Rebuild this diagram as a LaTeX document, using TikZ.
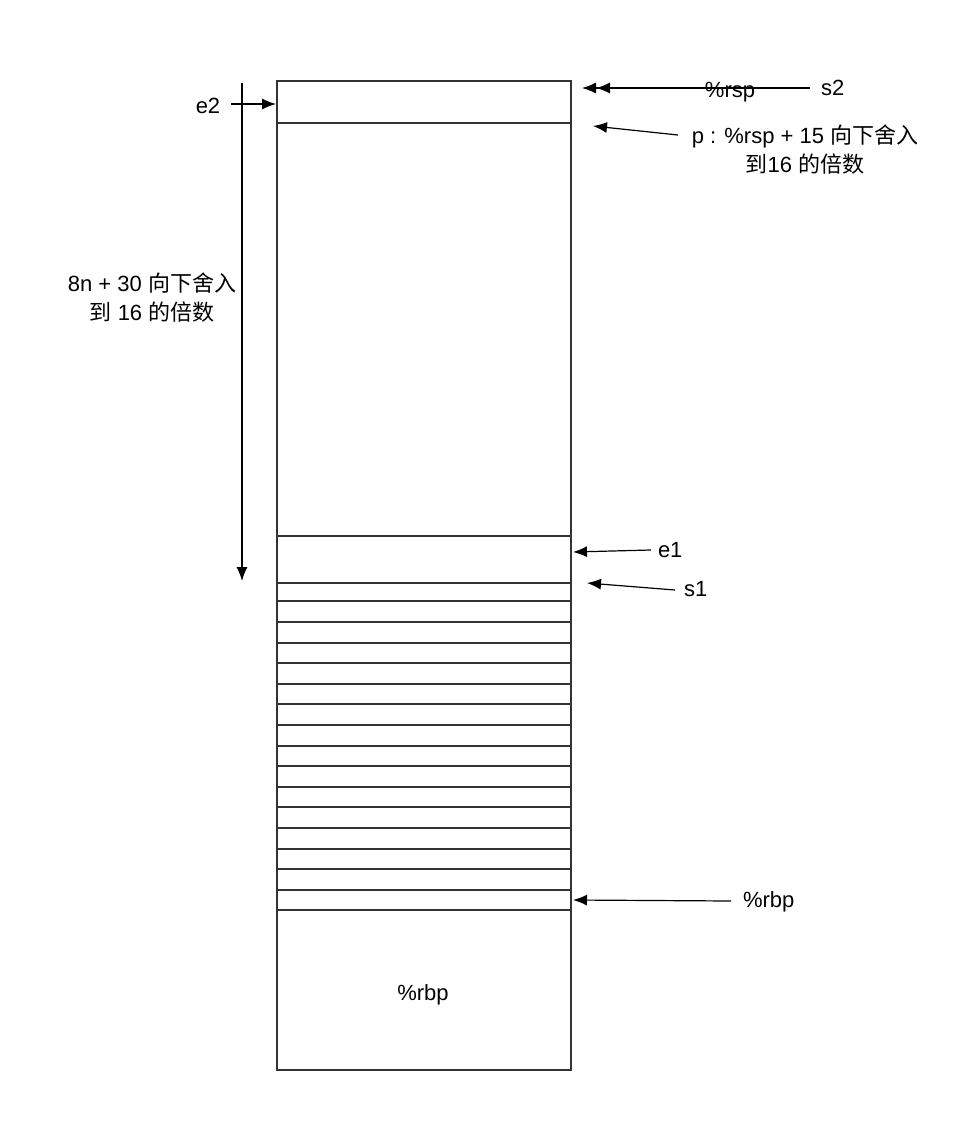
\documentclass[tikz,border=0pt]{standalone}
\usepackage{fontspec}
\setmainfont{Liberation Sans}
\newfontfamily\cjk{Noto Sans CJK SC}
\usetikzlibrary{arrows.meta,positioning}

\tikzset{
  arr/.style={-{Latex[length=7pt,width=5.5pt]}, line width=0.6pt, black},
  lbl/.style={font=\fontsize{11}{14.5}\selectfont, inner sep=1pt, black},
}

\begin{document}
\begin{tikzpicture}[x=0.5pt, y=-0.5pt, line width=1pt, draw=black!80]
  \useasboundingbox (0,0) rectangle (976,1142);

  % Stack frame
  \draw (277,81) rectangle (571,1070);
  \draw (277,123) -- (571,123);
  \draw (277,536) -- (571,536);
  \foreach \y in {583,601,622,643,663,684,704,725,746,766,787,807,828,849,869,890,910}
    \draw (277,\y) -- (571,\y);
  \node[lbl] (rbpin) at (423,995) {\%rbp};

  % Top pointers
  \node[lbl] (rsp) at (730,92) {\%rsp};
  \node[lbl, anchor=west] (stwo) at (818,88) {s2};
  \coordinate (rsptip) at (582,88);
  \coordinate (stwotip) at (596,88);
  \draw[arr] (stwo.west) ++(-8,0) -- (stwotip);
  \draw[arr] (rsp.west |- rsptip) -- (rsptip);

  \node[lbl, align=center] (ptext) at (805,150) {p : \%rsp + 15 {\cjk 向下舍入}\\{\cjk 到}16 {\cjk 的倍数}};
  \coordinate (ptail) at (678,135);
  \coordinate (ptip) at (593,126);
  \draw[arr] (ptail) -- (ptip);

  % e2 and size span
  \node[lbl] (etwo) at (208,106) {e2};
  \coordinate (etwotip) at (276,104);
  \draw[arr] (etwo.east) ++(8,-2) -- (etwotip);

  \coordinate (spantop) at (242,83);
  \coordinate (spanbot) at (242,581);
  \draw[arr] (spantop) -- (spanbot);
  \node[lbl, align=center] (span) at (152,298) {8n + 30 {\cjk 向下舍入}\\{\cjk 到} 16 {\cjk 的倍数}};

  % e1 / s1
  \node[lbl, anchor=west] (eone) at (655,550) {e1};
  \coordinate (eonetip) at (573,552);
  \draw[arr] (eone.west) ++(-4,0) -- (eonetip);

  \node[lbl, anchor=west] (sone) at (681,589) {s1};
  \coordinate (sonetip) at (587,583);
  \draw[arr] (sone.west) ++(-6,1) -- (sonetip);

  % %rbp
  \node[lbl, anchor=west] (rbp) at (740,902) {\%rbp};
  \coordinate (rbptip) at (573,900);
  \draw[arr] (rbp.west) ++(-9,-1) -- (rbptip);
\end{tikzpicture}
\end{document}
